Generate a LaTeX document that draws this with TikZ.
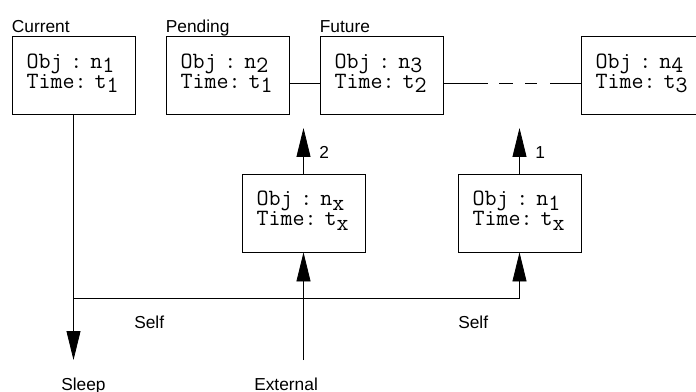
\documentclass[tikz,border=0pt]{standalone}
\usepackage{fontspec}
\setsansfont{Liberation Sans}
\usetikzlibrary{positioning,arrows.meta}
% lowered index digit, same size as the text
\newcommand{\low}[1]{\raisebox{-3.5pt}{#1}}
\tikzset{
  objbox/.style={draw, line width=0.6pt, minimum width=92.25pt, minimum height=58.5pt,
              inner xsep=11pt, inner ysep=0pt, text width=70.25pt, align=left,
              font=\ttfamily\fontsize{17.5}{15}\selectfont,
              text height=12pt, text depth=23.2pt},
  tag/.style={font=\sffamily\fontsize{13}{14}\selectfont, inner sep=0pt},
  head/.style={tag, anchor=base west, yshift=3pt},
  link/.style={line width=0.6pt},
  >={Triangle[width=10.5pt,length=21.75pt]},
}

\begin{document}
\begin{tikzpicture}[x=0.75pt,y=-0.75pt]
\useasboundingbox (0,0) rectangle (696,392);
\clip (0,0) rectangle (696,392);
% the event queue
\node[objbox, label={[head]north west:Current}] (cur) at (73.5,75.5)
  {Obj~:~n\low{1}\\Time:~t\low{1}};
\node[objbox, label={[head]north west:Pending}] (pend) at (227.5,75.5)
  {Obj~:~n\low{2}\\Time:~t\low{1}};
\node[objbox, label={[head]north west:Future}] (fut) at (381.5,75.5)
  {Obj~:~n\low{3}\\Time:~t\low{2}};
\node[objbox] (last) at (642.5,75.5)
  {Obj~:~n\low{4}\\Time:~t\low{3}};
\draw[link] ([yshift=-5.6pt]pend.east) -- ([yshift=-5.6pt]fut.west);
\draw[link, dash pattern=on 33.75pt off 8.25pt on 10.5pt off 9pt on 9pt off 9.75pt on 23.25pt]
  ([yshift=-5.6pt]fut.east) -- ([yshift=-5.6pt]last.west);
% new events
\node[objbox] (extq) at (303.5,213) {Obj~:~n\low{x}\\Time:~t\low{x}};
\node[objbox] (selfq) at (519.5,213) {Obj~:~n\low{1}\\Time:~t\low{x}};
\coordinate (tip2) at (303.5,128);
\coordinate (tip1) at (519.5,128);
\draw[link,->] (extq.north) -- (tip2) node[tag, pos=0.47, anchor=west, xshift=11.6pt] (two) {2};
\draw[link,->] (selfq.north) -- (tip1) node[tag, pos=0.47, anchor=west, xshift=11.6pt] (one) {1};
% sources
\coordinate (split) at (73.5,298);
\coordinate (sleep) at (73.5,360);
\coordinate (ext) at (303.5,360);
\draw[link] (cur.south) -- (split);
\draw[link,->] (split) -- (sleep);
\draw[link,->] (split) -| (selfq.south);
\draw[link,->] (ext) -- (extq.south);
\node[tag, anchor=base west] (selfa) at (134,328) {Self};
\node[tag, anchor=base west] (selfb) at (458,328) {Self};
\node[tag, anchor=base west] (sleeptxt) at (61,390) {Sleep};
\node[tag, anchor=base west] (exttxt) at (254,390) {External};
\end{tikzpicture}
\end{document}
